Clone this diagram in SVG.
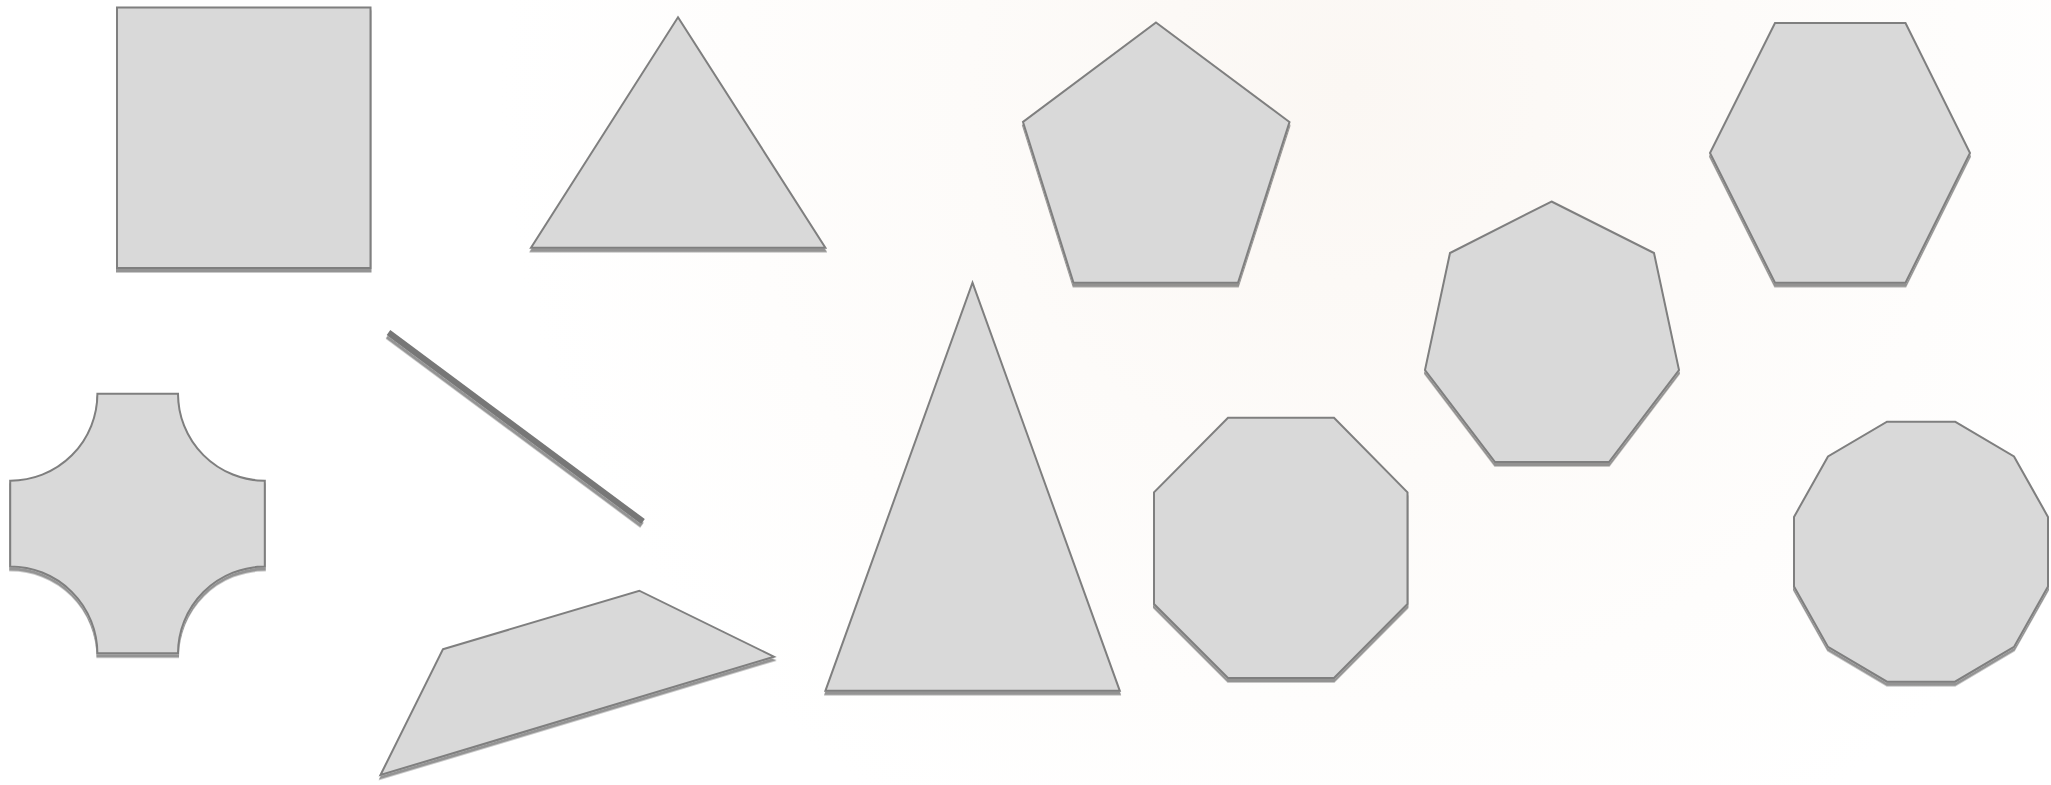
<svg xmlns="http://www.w3.org/2000/svg" width="2051" height="785" viewBox="0 0 2051 785">
  <defs>
    <radialGradient id="bgTint" cx="1350" cy="90" r="850" gradientUnits="userSpaceOnUse">
      <stop offset="0" stop-color="#fbf7f3"/>
      <stop offset="0.45" stop-color="#fdfbf9"/>
      <stop offset="1" stop-color="#ffffff"/>
    </radialGradient>
    <filter id="shadow" x="-10%" y="-10%" width="120%" height="125%">
      <feDropShadow dx="0" dy="3.5" stdDeviation="0.7" flood-color="#000000" flood-opacity="0.42"/>
    </filter>
    <filter id="barShadow" filterUnits="userSpaceOnUse" x="370" y="315" width="290" height="225">
      <feDropShadow dx="-1" dy="3.5" stdDeviation="0.7" flood-color="#000000" flood-opacity="0.42"/>
    </filter>
  </defs>
  <style>
    .shape { fill: #d9d9d9; stroke: #7f7f7f; stroke-width: 2; stroke-linejoin: miter; filter: url(#shadow); }
    .bar { fill: none; stroke: #777777; stroke-width: 6; stroke-linecap: butt; filter: url(#barShadow); }
  </style>
  <rect x="0" y="0" width="2051" height="785" fill="url(#bgTint)"/>

  <g id="rectangle">
    <rect class="shape" x="117" y="7.5" width="253.5" height="260.5"/>
  </g>
  <g id="triangle">
    <polygon class="shape" points="678,17.3 825.4,247.7 531,247.7"/>
  </g>
  <g id="pentagon">
    <polygon class="shape" points="1156,22.5 1289.5,122 1238,282.7 1073.5,282.7 1023,122"/>
  </g>
  <g id="hexagon">
    <polygon class="shape" points="1775,23 1905.5,23 1970,153 1905.5,282.7 1775,282.7 1710,153"/>
  </g>
  <g id="heptagon">
    <polygon class="shape" points="1551.5,201.5 1654,253 1679,370 1609,462 1495,462 1425,370 1450,253"/>
  </g>
  <g id="plaque">
    <path class="shape" d="M 97.4 393.7 H 178 A 87 87 0 0 0 264.8 480.7 V 566.5 A 87 87 0 0 0 178 653.3 H 97.4 A 87 87 0 0 0 10.2 566.5 V 480.7 A 87 87 0 0 0 97.4 393.7 Z"/>
  </g>
  <g id="line">
    <line class="bar" x1="388.5" y1="332.5" x2="643" y2="521.5"/>
  </g>
  <g id="quadrilateral">
    <polygon class="shape" points="442.9,649.3 639.3,590.7 774,656.7 380.5,775"/>
  </g>
  <g id="tall-triangle">
    <polygon class="shape" points="972.5,282.7 1119.8,690.8 825.4,690.8"/>
  </g>
  <g id="octagon">
    <polygon class="shape" points="1228,417.7 1334,417.7 1407.5,492.3 1407.5,604 1334,678 1228,678 1154,604 1154,492.3"/>
  </g>
  <g id="dodecagon">
    <polygon class="shape" points="1955,421.7 2014,456.5 2048,516.9 2048,586.5 2014,646.9 1955,681.7 1887,681.7 1828,646.9 1794,586.5 1794,516.9 1828,456.5 1887,421.7"/>
  </g>
  <g id="connectors"></g>
</svg>
